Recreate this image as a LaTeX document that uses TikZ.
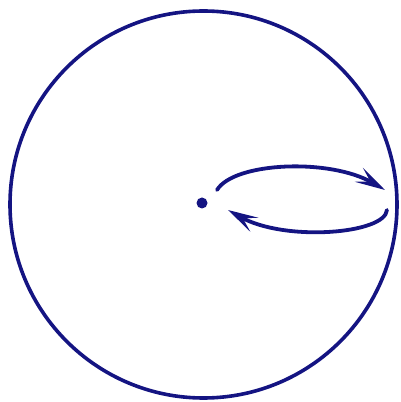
\documentclass[tikz,border=0pt]{standalone}
\usepackage{tikz}
\usetikzlibrary{arrows.meta,positioning,calc}
\definecolor{ringBlue}{RGB}{20, 20, 130}

\begin{document}
\begin{tikzpicture}[x=1pt, y=1pt,
    ring/.style={draw=ringBlue, circle, line width=3.6pt, minimum size=387pt, inner sep=0pt},
    orbit/.style={-{Stealth[length=30pt, width=16pt, inset=13pt]}, line width=3.8pt, color=ringBlue, line cap=round}]
  \useasboundingbox (0,0) rectangle (401,402);

  \node (rim) [ring] at (203.5,197.5) {};
  \node (centre) [fill=ringBlue, circle, inner sep=0pt, minimum size=11pt] at (202,199) {};

  \coordinate (outStart) at (217,212);
  \coordinate (outEnd) at (385,212);
  \coordinate (backStart) at (387,192);
  \coordinate (backEnd) at (228,192);

  \draw[orbit] (outStart) .. controls (234,240) and (330,244) .. (outEnd);
  \draw[orbit] (backStart) .. controls (385,168) and (285,160) .. (backEnd);
\end{tikzpicture}
\end{document}
